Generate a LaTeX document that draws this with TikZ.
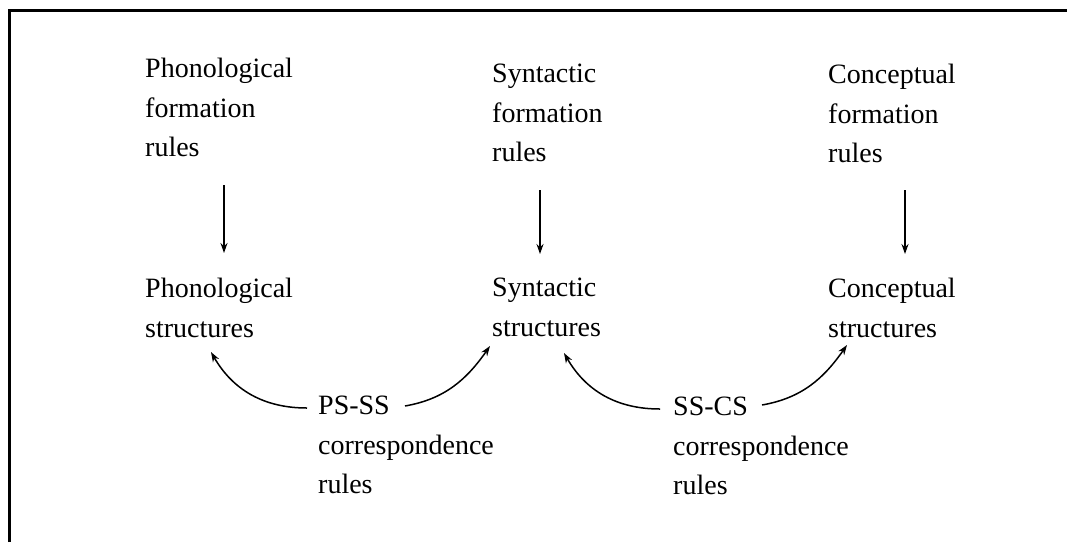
\documentclass[tikz,border=0pt]{standalone}
\usepackage{fontspec}
\setmainfont{Liberation Serif}
\usetikzlibrary{arrows.meta}
\begin{document}
\begin{tikzpicture}[x=1pt,y=-1pt,
  label/.style={anchor=north west,inner sep=0pt,align=left,
    font=\fontsize{28}{39.5}\selectfont},
  arr/.style={line width=1.5pt,-{Stealth[length=10pt,width=7pt]}}]
  \useasboundingbox (0,0) rectangle (1067,542);
  % frame: top and left edges only
  \draw[line width=3pt] (9.5,542) -- (9.5,10.5) -- (1067,10.5);

  % formation rules
  \node[label] (pf) at (145,58) {Phonological\\formation\\rules};
  \node[label] (sf) at (492,64) {Syntactic\\formation\\rules};
  \node[label] (cf) at (828,64) {Conceptual\\formation\\rules};

  % structures
  \node[label] (ps) at (145,278) {Phonological\\structures};
  \node[label] (ss) at (492,278) {Syntactic\\structures};
  \node[label] (cs) at (828,278) {Conceptual\\structures};

  % correspondence rules
  \node[label] (pss) at (318,396) {PS-SS\\correspondence\\rules};
  \node[label] (scs) at (673,397) {SS-CS\\correspondence\\rules};

  % formation rules generate structures
  \draw[arr] ([xshift=79pt,yshift=-127pt]pf.north west) -- ([xshift=79pt,yshift=25pt]ps.north west);
  \draw[arr] ([xshift=48pt,yshift=-126pt]sf.north west) -- ([xshift=48pt,yshift=24pt]ss.north west);
  \draw[arr] ([xshift=77pt,yshift=-126pt]cf.north west) -- ([xshift=77pt,yshift=24pt]cs.north west);

  % correspondence rules link neighbouring structures
  \draw[arr] ([xshift=-11pt,yshift=-12pt]pss.north west) to[out=180,in=-60]
    ([xshift=66pt,yshift=-74pt]ps.north west);
  \draw[arr] ([xshift=87pt,yshift=-10pt]pss.north west) to[out=10,in=-125]
    ([xshift=-2pt,yshift=-68pt]ss.north west);
  \draw[arr] ([xshift=-13pt,yshift=-12pt]scs.north west) to[out=180,in=-60]
    ([xshift=72pt,yshift=-75pt]ss.north west);
  \draw[arr] ([xshift=89pt,yshift=-8pt]scs.north west) to[out=10,in=-125]
    ([xshift=19pt,yshift=-67pt]cs.north west);
\end{tikzpicture}
\end{document}
